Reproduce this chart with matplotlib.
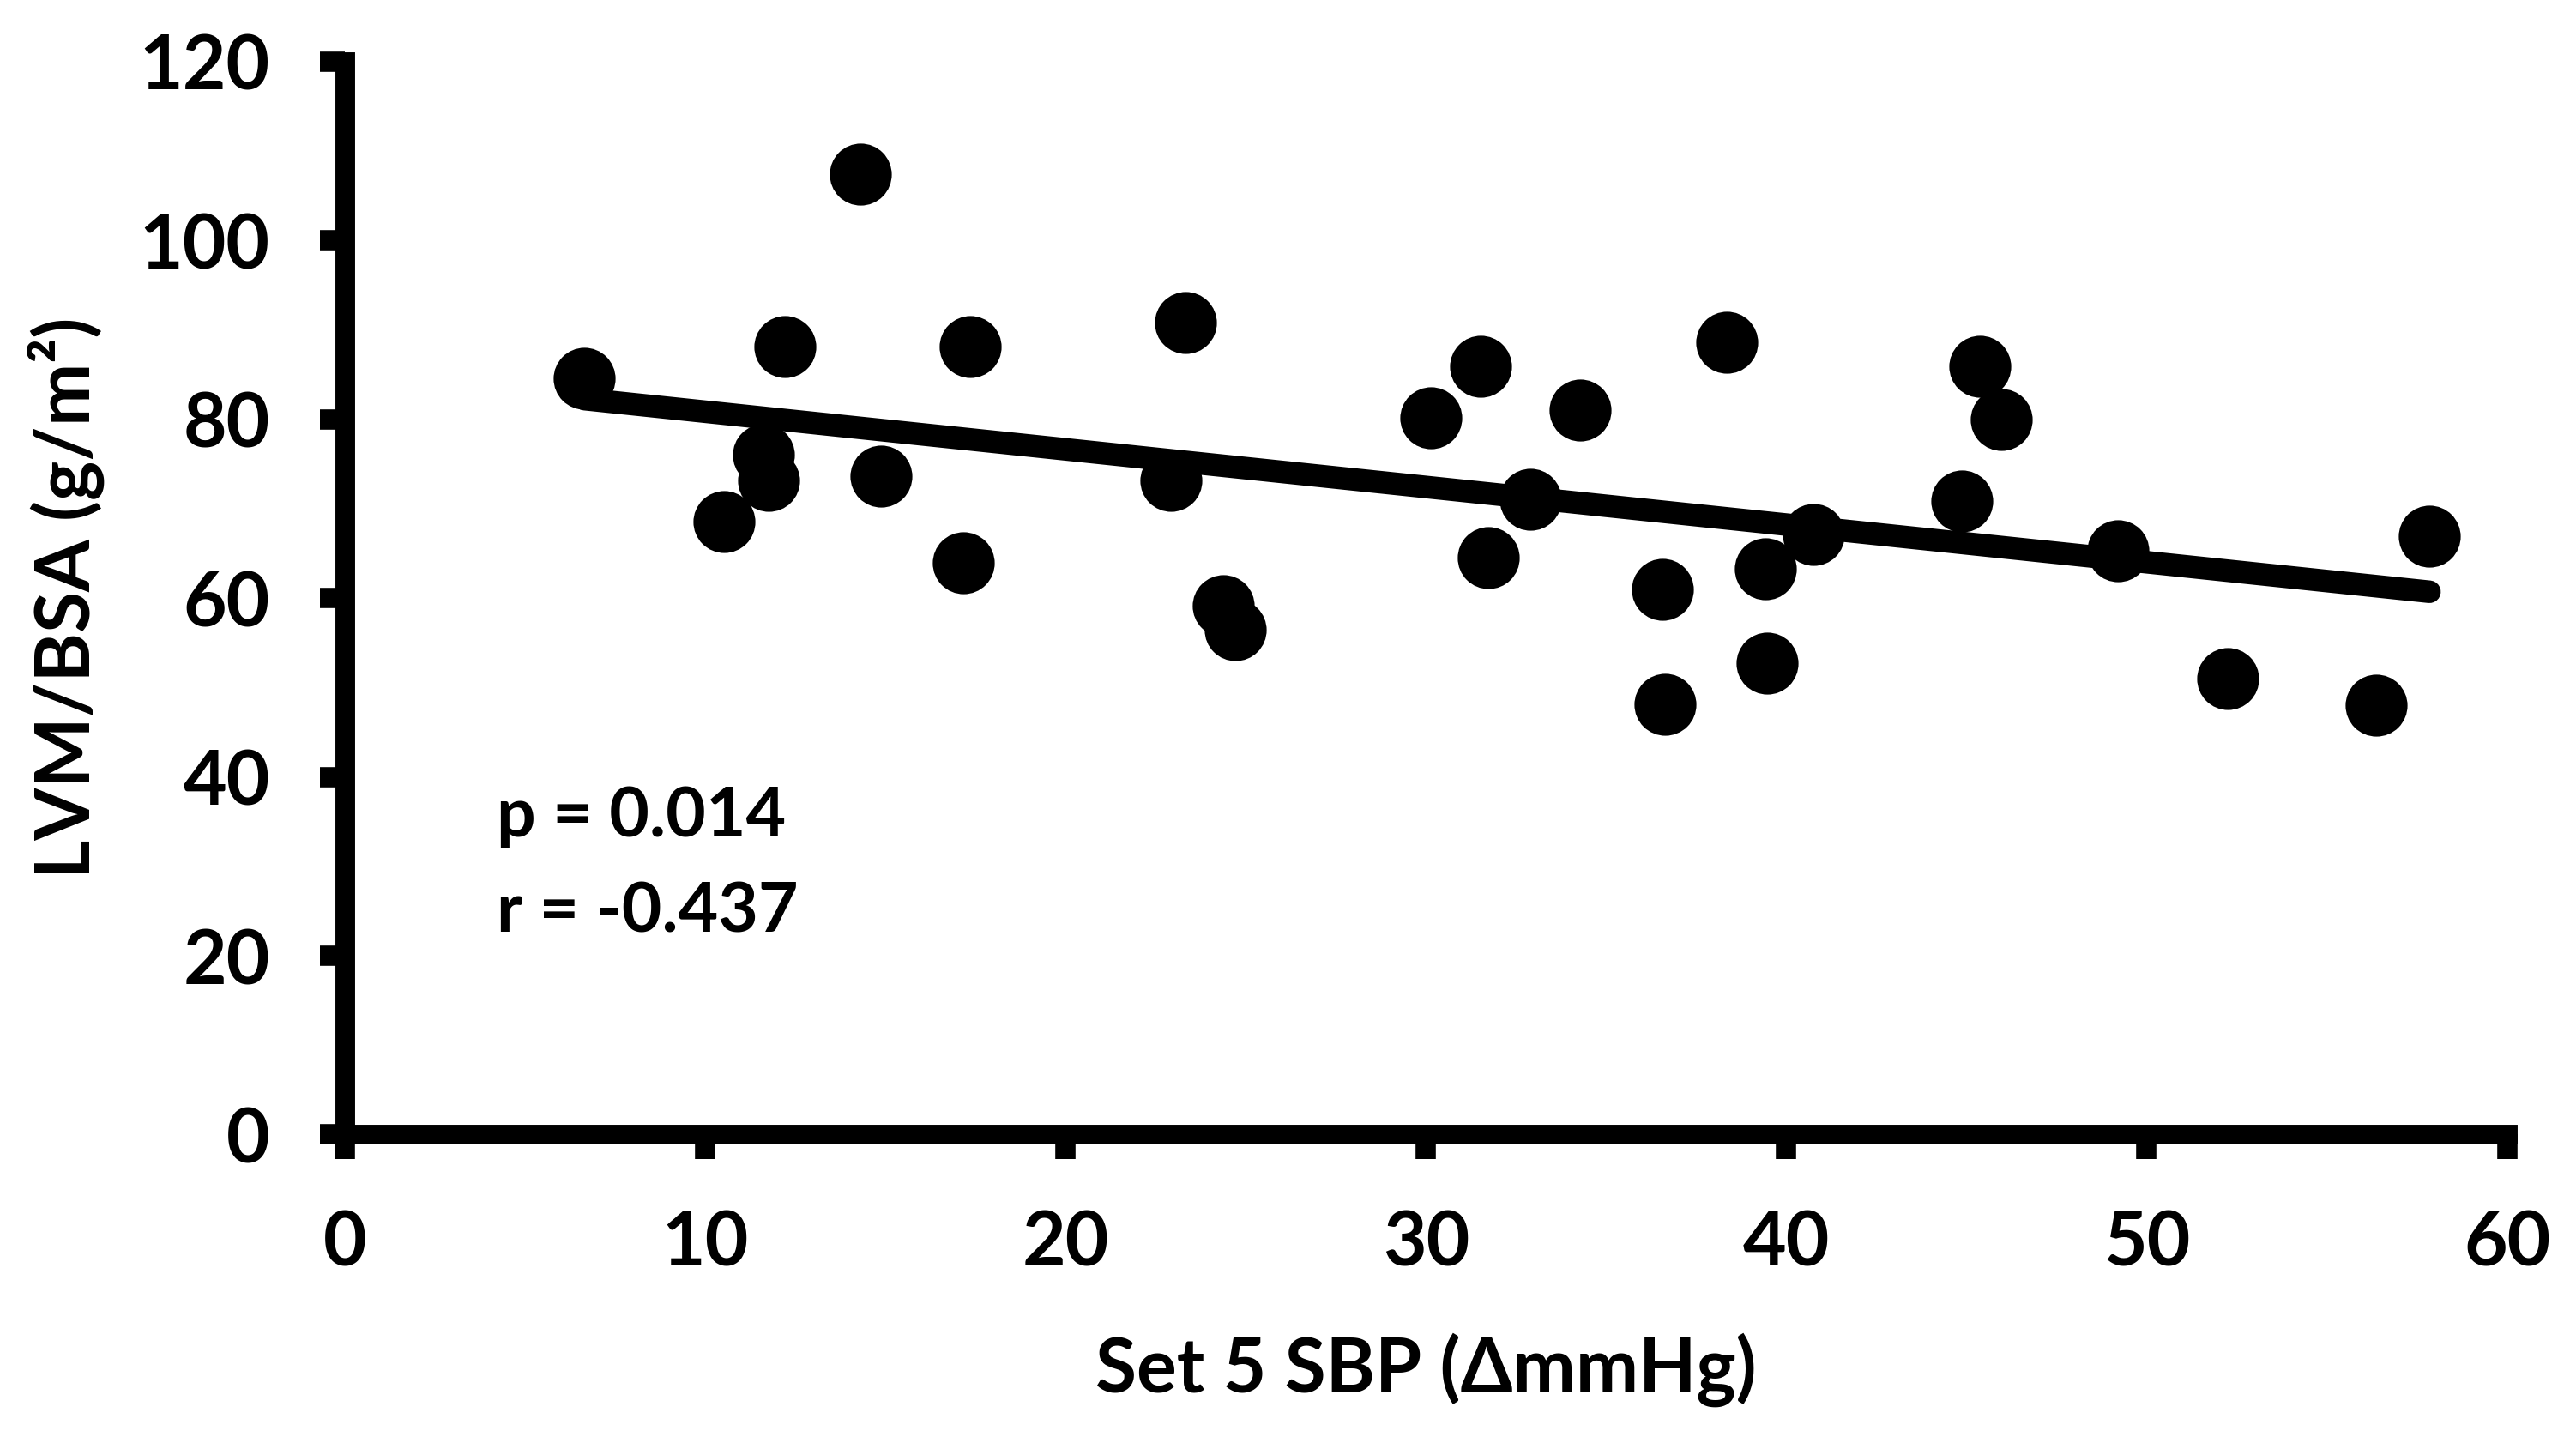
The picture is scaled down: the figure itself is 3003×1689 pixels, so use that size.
import numpy as np
import matplotlib.pyplot as plt

# === DATA ===
sbp = [6.65, 10.52, 11.61, 11.76, 12.22, 14.31, 14.88, 17.15, 17.35,
       22.92, 23.32, 24.38, 24.71, 30.14, 31.52, 31.74, 32.89, 34.28,
       36.56, 36.64, 38.35, 39.42, 39.46, 40.76, 44.86, 45.36, 45.97,
       49.20, 52.25, 56.37, 57.85]
lvm_bsa = [84.6, 68.6, 76.0, 73.2, 88.1, 107.4, 73.6, 64.0, 88.1,
           73.2, 90.8, 59.2, 56.5, 80.2, 85.9, 64.5, 71.1, 81.0,
           61.0, 48.1, 88.6, 63.3, 52.7, 67.1, 70.9, 85.9, 80.0,
           65.3, 51.0, 48.0, 66.9]
x_ticks = [0, 10, 20, 30, 40, 50, 60]
y_ticks = [0, 20, 40, 60, 80, 100, 120]
stats_text = ["p = 0.014", "r = -0.437"]

# === STYLE ===
plt.rcParams['font.family'] = ['Lato', 'DejaVu Sans']
plt.rcParams['font.weight'] = 'bold'

fig = plt.figure(figsize=(30.03, 16.89), dpi=100)
ax = fig.add_axes([0.1339, 0.2170, 0.8393, 0.7404])

x = np.array(sbp)
y = np.array(lvm_bsa)

# regression line
slope, intercept = np.polyfit(x, y, 1)
xs = np.array([x.min(), x.max()])
ax.plot(xs, intercept + slope * xs, color='black', lw=19,
        solid_capstyle='round', zorder=2)

ax.scatter(x, y, s=52 ** 2, color='black', linewidths=0, zorder=3)

ax.set_xlim(0, 60)
ax.set_ylim(0, 120)
ax.set_xticks(x_ticks)
ax.set_yticks(y_ticks)

for side in ['top', 'right']:
    ax.spines[side].set_visible(False)
for side in ['left', 'bottom']:
    ax.spines[side].set_linewidth(16.5)

ax.tick_params(direction='out', length=21, width=17, labelsize=63, pad=42)

ax.set_xlabel("Set 5 SBP (ΔmmHg)", fontsize=63, fontweight='bold', labelpad=45)
ax.set_ylabel("LVM/BSA (g/m²)", fontsize=63, fontweight='bold', labelpad=29)

ax.text(4.2, 33.3, stats_text[0], fontsize=58, fontweight='bold', va='baseline')
ax.text(4.2, 22.6, stats_text[1], fontsize=58, fontweight='bold', va='baseline')

plt.savefig("out.png", dpi=100)
